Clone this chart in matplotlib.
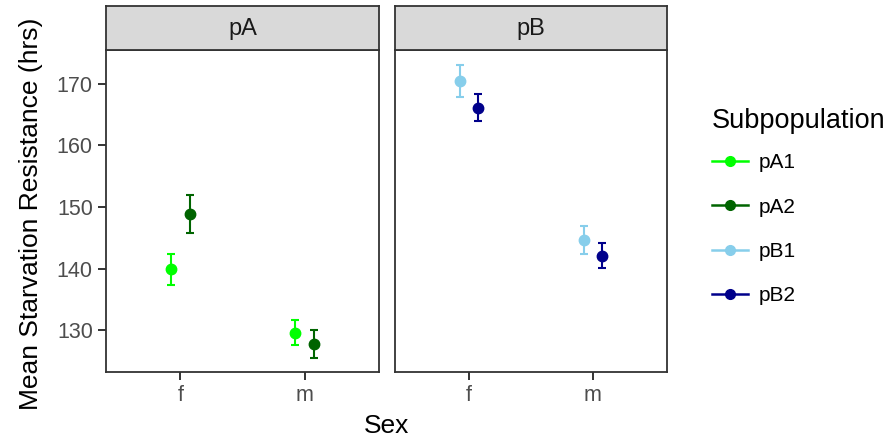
import numpy as np
import matplotlib
matplotlib.use("Agg")
import matplotlib.pyplot as plt
from matplotlib.lines import Line2D

plt.rcParams['font.family'] = ['Liberation Sans', 'DejaVu Sans']

# data
sexes = ['f', 'm']
panels = ['pA', 'pB']
subpops = {'pA': ['pA1', 'pA2'], 'pB': ['pB1', 'pB2']}
colors = {'pA1': '#00FF00', 'pA2': '#006400', 'pB1': '#87CEEB', 'pB2': '#00008B'}

means = {
    'pA1': [139.9, 129.6],
    'pA2': [148.8, 127.7],
    'pB1': [170.5, 144.6],
    'pB2': [166.1, 142.1],
}
errs = {
    'pA1': [2.5, 2.0],
    'pA2': [3.1, 2.3],
    'pB1': [2.6, 2.3],
    'pB2': [2.2, 2.0],
}

W, H = 896, 444
fig = plt.figure(figsize=(W / 100, H / 100), dpi=100)

def box(x0, y0, x1, y1):
    # pixel box -> figure fraction
    return [x0 / W, (H - y1) / H, (x1 - x0) / W, (y1 - y0) / H]

panel_x = {'pA': (106, 379), 'pB': (395, 667)}
grey = '#4D4D4D'
dodge = 0.075

for i, p in enumerate(panels):
    x0, x1 = panel_x[p]
    ax = fig.add_axes(box(x0, 50, x1, 372))
    xs = np.arange(1, len(sexes) + 1)
    for k, sp in enumerate(subpops[p]):
        off = -dodge if k == 0 else dodge
        ax.errorbar(xs + off, means[sp], yerr=errs[sp], fmt='o', color=colors[sp],
                    ms=7.5, elinewidth=1.5, capsize=2.6, capthick=1.5)
    ax.set_xlim(0.4, 2.6)
    ax.set_ylim(123.2, 175.5)
    ax.set_xticks(xs)
    ax.set_xticklabels(sexes)
    ax.set_yticks([130, 140, 150, 160, 170])
    for s in ax.spines.values():
        s.set_color('#333333')
        s.set_linewidth(1.3)
    ax.tick_params(axis='both', colors='#333333', labelcolor=grey, labelsize=15.5,
                   length=5.5, width=1.4)
    ax.tick_params(axis='y', pad=4)
    ax.tick_params(axis='x', pad=4)
    if i > 0:
        ax.tick_params(axis='y', left=False, labelleft=False)

    # facet strip
    st = fig.add_axes(box(x0, 6, x1, 50))
    st.set_facecolor('#D9D9D9')
    st.set_xticks([])
    st.set_yticks([])
    for s in st.spines.values():
        s.set_color('#333333')
        s.set_linewidth(1.3)
    st.text(0.5, 0.47, p, ha='center', va='center', fontsize=17, color='#1A1A1A',
            transform=st.transAxes)

fig.text(387 / W, 1 - 426 / H, 'Sex', ha='center', va='center', fontsize=19)
fig.text(31 / W, 1 - 214 / H, 'Mean Starvation Resistance (hrs)', rotation=90,
         ha='center', va='center', fontsize=19)

handles = [Line2D([0], [0], color=colors[sp], marker='o', ms=7, lw=1.8)
           for p in panels for sp in subpops[p]]
labels = [sp for p in panels for sp in subpops[p]]
leg = fig.legend(handles, labels, title='Subpopulation', loc='upper left',
                 bbox_to_anchor=(693 / W, 1 - 89 / H), frameon=False,
                 fontsize=15, title_fontsize=19.5, handlelength=1.75,
                 labelspacing=1.22, handletextpad=0.5)
leg._legend_box.align = 'left'
leg._legend_box.sep = 14  # gap between title and first key

fig.savefig('out.png', dpi=100)
